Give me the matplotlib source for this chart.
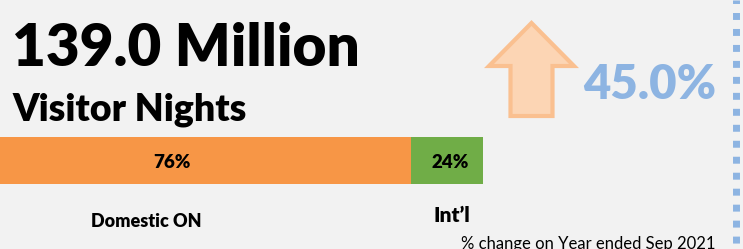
import numpy as np
import matplotlib
matplotlib.use("Agg")
import matplotlib.pyplot as plt
from matplotlib.patches import FancyArrow

# ---- data ----
headline = "139.0 Million"
subtitle = "Visitor Nights"
change_label = "45.0%"
categories = ["Domestic ON", "Int\u2019l"]
shares = [76, 24]
share_labels = ["76%", "24%"]
footnote = "% change on Year ended Sep 2021"

W, H = 743, 249
BG = "#f2f2f2"
plt.rcParams['font.family'] = ['Lato', 'DejaVu Sans']

fig = plt.figure(figsize=(W / 100, H / 100), dpi=100, facecolor=BG)

# overlay axes in pixel coordinates
ov = fig.add_axes([0, 0, 1, 1])
ov.set_xlim(0, W)
ov.set_ylim(H, 0)
ov.axis('off')
ov.set_zorder(2)
ov.patch.set_alpha(0)

# bar axes
bar_left, bar_right, bar_top, bar_bot = 0, 483, 137, 184
bx = fig.add_axes([bar_left / W, 1 - bar_bot / H, (bar_right - bar_left) / W, (bar_bot - bar_top) / H])
bx.set_facecolor(BG)
p = 0.588
bx.set_xscale('function', functions=(lambda x: np.power(np.clip(x, 0, None), p),
                                     lambda x: np.power(np.clip(x, 0, None), 1 / p)))
colors = ["#f79646", "#70ad47"]
left = 0
for v, c in zip(shares, colors):
    bx.barh(0, v, left=left, height=1.0, color=c, edgecolor='none')
    left += v
bx.set_xlim(0, sum(shares))
bx.set_ylim(-0.5, 0.5)
bx.axis('off')

# share labels
ov.text(172, 168, share_labels[0], ha='center', va='baseline', fontsize=13.5, fontweight='heavy',
        color='black')
ov.text(450, 168, share_labels[1], ha='center', va='baseline', fontsize=13.5, fontweight='heavy',
        color='black')

# category labels
ov.text(146, 227, categories[0], ha='center', va='baseline', fontsize=13, fontweight='heavy',
        color='black')
ov.text(452, 222, categories[1], ha='center', va='baseline', fontsize=15, fontweight='heavy',
        color='black')

# headline texts
ov.text(12, 66, headline, ha='left', va='baseline', fontsize=42, fontweight='heavy', color='black')
ov.text(12, 120, subtitle, ha='left', va='baseline', fontsize=27, fontweight='heavy', color='black')
ov.text(583, 99, change_label, ha='left', va='baseline', fontsize=34, fontweight='heavy', color='#8db4e2')

# up arrow
arr = FancyArrow(531.5, 116, 0, -93, width=42, head_width=85, head_length=43,
                 length_includes_head=True, facecolor='#fcd5b4', edgecolor='#fac090', linewidth=3)
ov.add_patch(arr)

# footnote
ov.text(588, 248.5, footnote, ha='center', va='baseline', fontsize=12, color='black')

# dotted separator
ov.plot([736, 736], [0, H], color='#8db4e2', linewidth=5, linestyle=(0.5, (1, 1.3)),
        solid_capstyle='butt', dash_capstyle='butt')

fig.savefig("out.png", dpi=100, facecolor=BG)
